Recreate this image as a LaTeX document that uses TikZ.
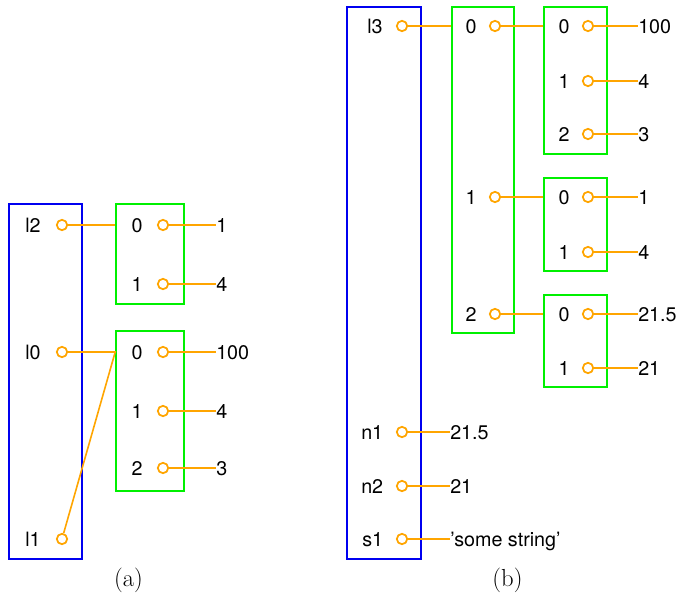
\documentclass[tikz,border=0pt]{standalone}
\usepackage{fontspec}
\setsansfont{TeX Gyre Heros}
\usetikzlibrary{fit}
\definecolor{ptr}{RGB}{255,165,0}
\definecolor{boxgreen}{RGB}{0,240,0}
\definecolor{boxblue}{RGB}{0,0,240}
\newfontfamily\capfont{Latin Modern Roman}
\begin{document}
\begin{tikzpicture}[x=0.75pt,y=-0.75pt,
  frame/.style={draw=boxblue, line width=1.2pt, inner sep=0pt},
  listbox/.style={draw=boxgreen, line width=1.2pt, inner sep=0pt},
  lbl/.style={font=\sffamily\fontsize{14.8}{17}\selectfont, inner sep=0pt, anchor=base west},
  idx/.style={font=\sffamily\fontsize{14.8}{17}\selectfont, inner sep=0pt, anchor=base},
  pin/.style={circle, draw=ptr, fill=white, line width=1.3pt, minimum size=7.8pt, inner sep=0pt},
  link/.style={draw=ptr, line width=1.2pt},
  captext/.style={font=\capfont\fontsize{18.5}{22}\selectfont, inner sep=0pt}]
\useasboundingbox (0,0) rectangle (679,596);

% ---------------- (a) ----------------
\node[frame, fit={(9,204) (82,559)}] (Fa) {};
\node[listbox, fit={(116,204) (184,304)}] (A) {};
\node[listbox, fit={(116,331) (184,491)}] (B) {};

\node[lbl] (nl2) at (25,232) {l2};
\node[lbl] (nl0) at (25,359) {l0};
\node[lbl] (nl1) at (25,546) {l1};
\node[pin] (pl2) at (62,225) {};
\node[pin] (pl0) at (62,352) {};
\node[pin] (pl1) at (62,539) {};

\node[idx] (a0) at (137,232) {0};
\node[idx] (a1) at (137,291) {1};
\node[pin] (pa0) at (163,225) {};
\node[pin] (pa1) at (163,284) {};
\node[lbl] (va0) at (216,232) {1};
\node[lbl] (va1) at (216,291) {4};

\node[idx] (b0) at (137,359) {0};
\node[idx] (b1) at (137,418) {1};
\node[idx] (b2) at (137,475) {2};
\node[pin] (pb0) at (163,352) {};
\node[pin] (pb1) at (163,411) {};
\node[pin] (pb2) at (163,468) {};
\node[lbl] (vb0) at (216,359) {100};
\node[lbl] (vb1) at (216,418) {4};
\node[lbl] (vb2) at (216,475) {3};

\draw[link] (pl2) -- (pl2 -| A.west);
\coordinate (j0) at (pl0 -| B.west);
\draw[link] (pl0) -- (j0) -- (pl1);
\draw[link] (pa0) -- (pa0 -| va0.west);
\draw[link] (pa1) -- (pa1 -| va1.west);
\draw[link] (pb0) -- (pb0 -| vb0.west);
\draw[link] (pb1) -- (pb1 -| vb1.west);
\draw[link] (pb2) -- (pb2 -| vb2.west);

\node[captext] (capa) at (128.5,580) {(a)};

% ---------------- (b) ----------------
\node[frame, fit={(347,7) (421,559)}] (Fb) {};
\node[listbox, fit={(452,7) (514,333)}] (M) {};
\node[listbox, fit={(544,7) (607,154)}] (R1) {};
\node[listbox, fit={(544,178) (607,271)}] (R2) {};
\node[listbox, fit={(544,295) (607,387)}] (R3) {};

\node[lbl] (nl3) at (367,33) {l3};
\node[lbl] (nn1) at (361,439) {n1};
\node[lbl] (nn2) at (361,493) {n2};
\node[lbl] (ns1) at (362,546) {s1};
\node[pin] (pl3) at (402,26) {};
\node[pin] (pn1) at (402,432) {};
\node[pin] (pn2) at (402,486) {};
\node[pin] (ps1) at (402,539) {};
\node[lbl] (vn1) at (450,439) {21.5};
\node[lbl] (vn2) at (450,493) {21};
\node[lbl] (vs1) at (450,546) {'some string'};

\node[idx] (m0) at (471,33) {0};
\node[idx] (m1) at (471,204) {1};
\node[idx] (m2) at (471,321) {2};
\node[pin] (pm0) at (495,26) {};
\node[pin] (pm1) at (495,197) {};
\node[pin] (pm2) at (495,314) {};

\node[idx] (r10) at (564,33) {0};
\node[idx] (r11) at (564,88) {1};
\node[idx] (r12) at (564,141) {2};
\node[pin] (pr10) at (588,26) {};
\node[pin] (pr11) at (588,81) {};
\node[pin] (pr12) at (588,134) {};
\node[lbl] (vr10) at (638,33) {100};
\node[lbl] (vr11) at (638,88) {4};
\node[lbl] (vr12) at (638,141) {3};

\node[idx] (r20) at (564,204) {0};
\node[idx] (r21) at (564,259) {1};
\node[pin] (pr20) at (588,197) {};
\node[pin] (pr21) at (588,252) {};
\node[lbl] (vr20) at (638,204) {1};
\node[lbl] (vr21) at (638,259) {4};

\node[idx] (r30) at (564,321) {0};
\node[idx] (r31) at (564,375) {1};
\node[pin] (pr30) at (588,314) {};
\node[pin] (pr31) at (588,368) {};
\node[lbl] (vr30) at (638,321) {21.5};
\node[lbl] (vr31) at (638,375) {21};

\draw[link] (pl3) -- (pl3 -| M.west);
\draw[link] (pm0) -- (pm0 -| R1.west);
\draw[link] (pm1) -- (pm1 -| R2.west);
\draw[link] (pm2) -- (pm2 -| R3.west);
\draw[link] (pn1) -- (pn1 -| vn1.west);
\draw[link] (pn2) -- (pn2 -| vn2.west);
\draw[link] (ps1) -- (ps1 -| vs1.west);
\draw[link] (pr10) -- (pr10 -| vr10.west);
\draw[link] (pr11) -- (pr11 -| vr11.west);
\draw[link] (pr12) -- (pr12 -| vr12.west);
\draw[link] (pr20) -- (pr20 -| vr20.west);
\draw[link] (pr21) -- (pr21 -| vr21.west);
\draw[link] (pr30) -- (pr30 -| vr30.west);
\draw[link] (pr31) -- (pr31 -| vr31.west);

\node[captext] (capb) at (507.5,580) {(b)};
\end{tikzpicture}
\end{document}
